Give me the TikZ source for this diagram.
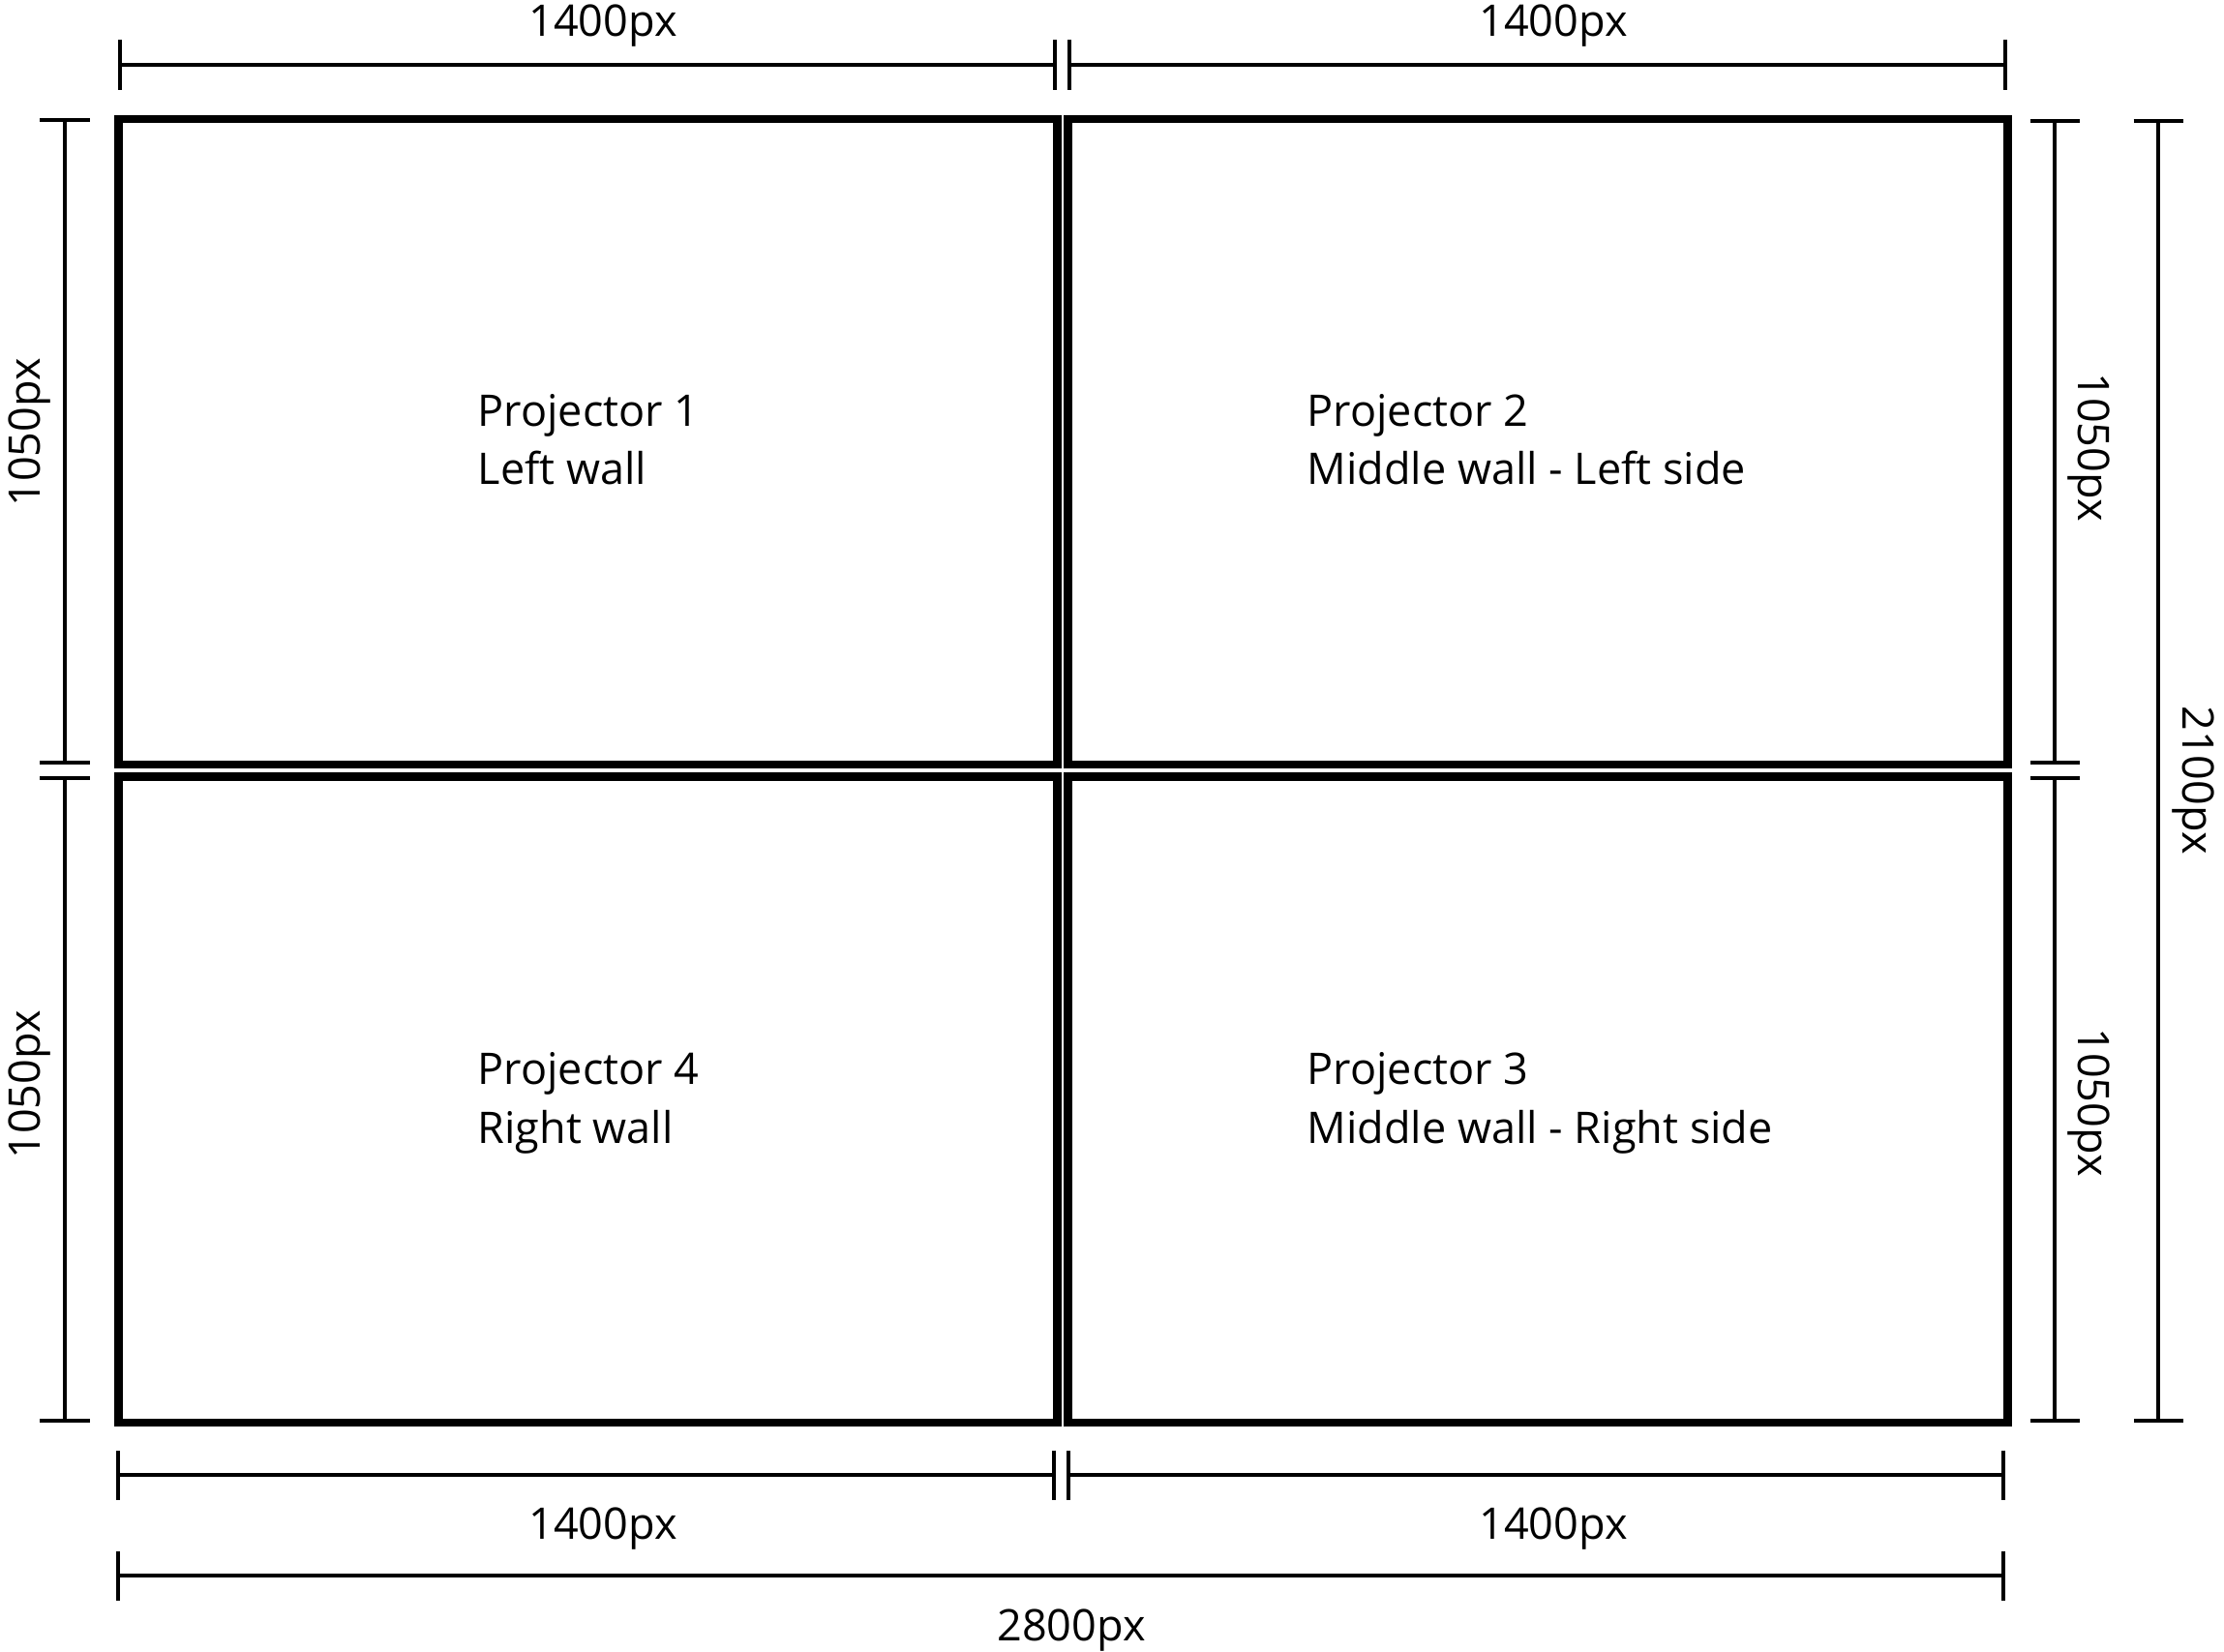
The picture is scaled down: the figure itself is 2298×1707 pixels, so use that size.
\documentclass[tikz,border=0pt]{standalone}
\usepackage{fontspec}
\setmainfont{Open Sans}
\usetikzlibrary{arrows.meta}
\tikzset{
  wall/.style={line width=2.42pt, line join=miter},
  dim/.style={line width=1.14pt, {Bar[width=0.51cm,line width=1.14pt]}-{Bar[width=0.51cm,line width=1.14pt]}},
  lbl/.style={inner sep=0pt, font=\fontsize{12.8pt}{17.1pt}\selectfont},
  ptext/.style={lbl, align=left, anchor=base west}
}
\begin{document}
\begin{tikzpicture}[x=0.01cm, y=-0.01cm]
\useasboundingbox (0,0) rectangle (2298,1707);
% panel corners
\coordinate (tl1) at (122.5,123);   \coordinate (tl2) at (1092.5,790);
\coordinate (tr1) at (1103.3,123);  \coordinate (tr2) at (2074.5,790);
\coordinate (bl1) at (122.5,802.5); \coordinate (bl2) at (1092.5,1470);
\coordinate (br1) at (1103.3,802.5);\coordinate (br2) at (2074.5,1470);
\draw[wall] (tl1) rectangle (tl2);
\draw[wall] (tr1) rectangle (tr2);
\draw[wall] (bl1) rectangle (bl2);
\draw[wall] (br1) rectangle (br2);
% projector labels (anchor on baseline of the last line)
\node[ptext] (p1) at (493,501) {Projector 1\\Left wall};
\node[ptext] (p2) at (1350,501) {Projector 2\\Middle wall - Left side};
\node[ptext] (p4) at (493,1181) {Projector 4\\Right wall};
\node[ptext] (p3) at (1350,1181) {Projector 3\\Middle wall - Right side};
% top dimensions
\coordinate (ta) at (122,67); \coordinate (tb) at (1092,67);
\coordinate (tc) at (1103,67); \coordinate (td) at (2074,67);
\draw[dim] (ta) -- (tb);
\draw[dim] (tc) -- (td);
\node[lbl, anchor=base] (t1) at (623,38) {1400px};
\node[lbl, anchor=base] (t2) at (1605,38) {1400px};
% left dimensions
\coordinate (la) at (67,122); \coordinate (lb) at (67,790);
\coordinate (lc) at (67,802); \coordinate (ld) at (67,1470);
\draw[dim] (la) -- (lb);
\draw[dim] (lc) -- (ld);
\node[lbl, anchor=base, rotate=90] (l1) at (41.7,447) {1050px};
\node[lbl, anchor=base, rotate=90] (l2) at (41.7,1121) {1050px};
% right dimensions
\coordinate (ra) at (2123,123); \coordinate (rb) at (2123,790);
\coordinate (rc) at (2123,802); \coordinate (rd) at (2123,1470);
\draw[dim] (ra) -- (rb);
\draw[dim] (rc) -- (rd);
\node[lbl, anchor=base, rotate=-90] (r1) at (2147,462) {1050px};
\node[lbl, anchor=base, rotate=-90] (r2) at (2147,1139) {1050px};
\coordinate (sa) at (2230,123); \coordinate (sb) at (2230,1470);
\draw[dim] (sa) -- (sb);
\node[lbl, anchor=base, rotate=-90] (s1) at (2255,806) {2100px};
% bottom dimensions
\coordinate (ba) at (120,1524); \coordinate (bb) at (1091,1524);
\coordinate (bc) at (1102,1524); \coordinate (bd) at (2072,1524);
\draw[dim] (ba) -- (bb);
\draw[dim] (bc) -- (bd);
\node[lbl, anchor=base] (b1) at (623,1590) {1400px};
\node[lbl, anchor=base] (b2) at (1605,1590) {1400px};
\coordinate (ca) at (120,1628); \coordinate (cb) at (2072,1628);
\draw[dim] (ca) -- (cb);
\node[lbl, anchor=base] (c1) at (1107,1695) {2800px};
\end{tikzpicture}
\end{document}
